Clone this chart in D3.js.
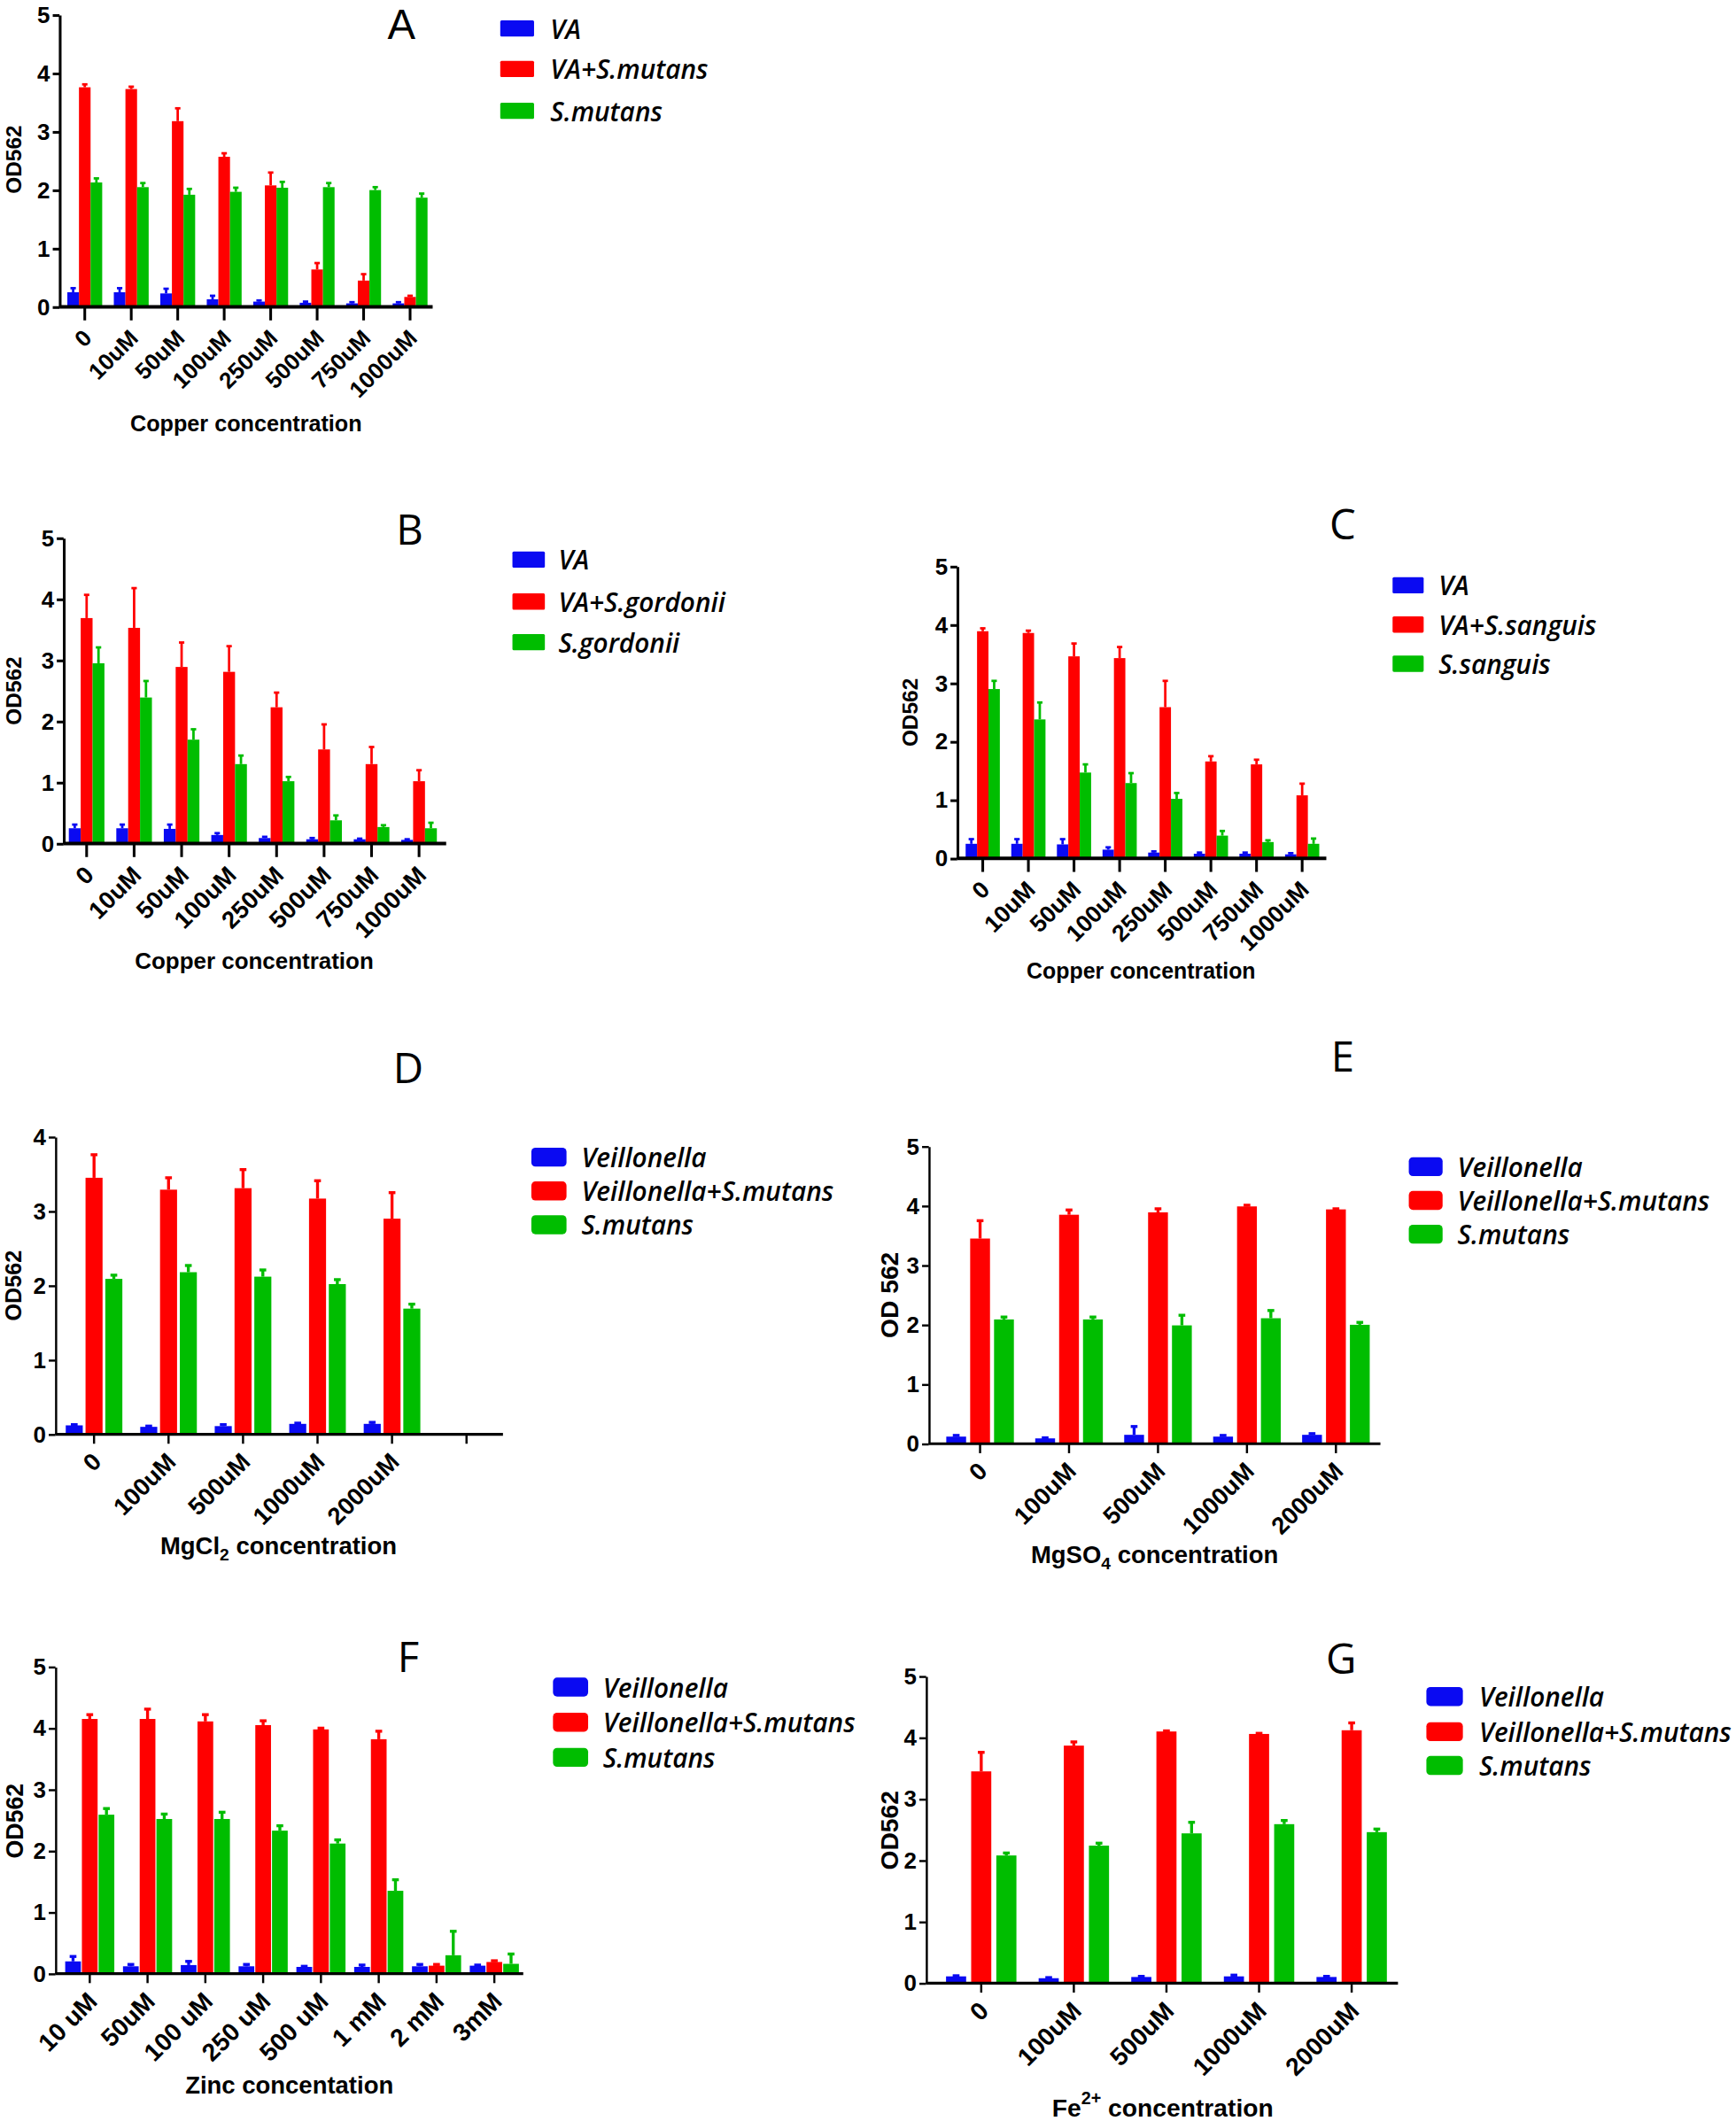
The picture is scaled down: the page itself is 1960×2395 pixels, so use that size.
<!DOCTYPE html>
<html><head><meta charset="utf-8">
<script src="https://cdnjs.cloudflare.com/ajax/libs/d3/7.8.5/d3.min.js"></script>
<style>html,body{margin:0;padding:0;background:#fff;} svg{display:block;background:#fff}</style>
</head><body>
<svg id="fig" width="1960" height="2395" viewBox="0 0 1284 1569"></svg>
<script>
// ---------- DATA ----------
const copperCats = ["0","10uM","50uM","100uM","250uM","500uM","750uM","1000uM"];
const mgCatsD = ["0","100uM","500uM","1000uM","2000uM",""];
const mgCatsE = ["0","100uM","500uM","1000uM","2000uM"];
const zincCats = ["10 uM","50uM","100 uM","250 uM","500 uM","1 mM","2 mM","3mM"];
const feCats = ["0","100uM","500uM","1000uM","2000uM"];
const yTicks5 = [0,1,2,3,4,5];
const yTicks4 = [0,1,2,3,4];

const legendA = ["VA","VA+S.mutans","S.mutans"];
const legendB = ["VA","VA+S.gordonii","S.gordonii"];
const legendC = ["VA","VA+S.sanguis","S.sanguis"];
const legendV = ["Veillonella","Veillonella+S.mutans","S.mutans"];

// Panel A
const A_va = [0.25,0.25,0.23,0.13,0.09,0.07,0.06,0.06];
const A_vaErr = [0.07,0.07,0.08,0.06,0.02,0.02,0.02,0.02];
const A_mix = [3.76,3.73,3.18,2.57,2.08,0.64,0.45,0.17];
const A_mixErr = [0.05,0.04,0.22,0.06,0.22,0.11,0.11,0.02];
const A_sm = [2.13,2.05,1.92,1.97,2.04,2.05,2.00,1.87];
const A_smErr = [0.07,0.07,0.10,0.07,0.10,0.07,0.05,0.07];
// Panel B
const B_va = [0.25,0.25,0.24,0.14,0.09,0.07,0.07,0.06];
const B_vaErr = [0.06,0.06,0.07,0.03,0.02,0.02,0.01,0.01];
const B_mix = [3.69,3.53,2.89,2.81,2.23,1.54,1.30,1.02];
const B_mixErr = [0.38,0.65,0.40,0.42,0.24,0.41,0.28,0.18];
const B_sg = [2.95,2.39,1.70,1.30,1.02,0.38,0.27,0.25];
const B_sgErr = [0.26,0.27,0.17,0.14,0.07,0.08,0.03,0.09];
// Panel C
const C_va = [0.25,0.25,0.24,0.15,0.10,0.08,0.08,0.07];
const C_vaErr = [0.08,0.08,0.09,0.04,0.02,0.02,0.02,0.02];
const C_mix = [3.89,3.86,3.46,3.43,2.59,1.66,1.61,1.08];
const C_mixErr = [0.05,0.04,0.22,0.19,0.45,0.09,0.08,0.20];
const C_ss = [2.90,2.38,1.47,1.29,1.02,0.39,0.28,0.25];
const C_ssErr = [0.14,0.29,0.14,0.17,0.10,0.08,0.03,0.09];
// Panel D
const D_v = [0.12,0.10,0.11,0.14,0.14];
const D_vErr = [0.01,0.01,0.02,0.01,0.02];
const D_mix = [3.45,3.29,3.31,3.17,2.90];
const D_mixErr = [0.31,0.16,0.25,0.24,0.35];
const D_sm = [2.09,2.18,2.12,2.02,1.69];
const D_smErr = [0.05,0.09,0.09,0.06,0.06];
// Panel E
const E_v = [0.12,0.09,0.15,0.12,0.15];
const E_vErr = [0.02,0.01,0.14,0.02,0.02];
const E_mix = [3.45,3.85,3.89,3.99,3.94];
const E_mixErr = [0.30,0.08,0.06,0.02,0.01];
const E_sm = [2.09,2.09,1.99,2.11,2.00];
const E_smErr = [0.04,0.04,0.17,0.13,0.04];
// Panel F
const F_v = [0.20,0.12,0.14,0.12,0.11,0.11,0.12,0.13];
const F_vErr = [0.08,0.03,0.06,0.03,0.01,0.03,0.03,0.01];
const F_mix = [4.15,4.15,4.11,4.05,3.98,3.82,0.13,0.19];
const F_mixErr = [0.07,0.16,0.11,0.07,0.02,0.13,0.02,0.02];
const F_sm = [2.59,2.52,2.52,2.33,2.12,1.35,0.30,0.16];
const F_smErr = [0.10,0.08,0.11,0.08,0.06,0.18,0.39,0.16];
// Panel G
const G_v = [0.11,0.08,0.10,0.11,0.10];
const G_vErr = [0.01,0.01,0.01,0.02,0.01];
const G_mix = [3.45,3.87,4.10,4.06,4.12];
const G_mixErr = [0.31,0.06,0.01,0.01,0.12];
const G_sm = [2.08,2.24,2.44,2.59,2.46];
const G_smErr = [0.04,0.04,0.18,0.06,0.05];

// ---------- STYLE ----------
const BLUE = "#0a0af2", RED = "#ff0000", GREEN = "#00bd00";
const colors = [BLUE, RED, GREEN];
const AXIS_FONT = "'Liberation Sans', Arial, sans-serif";
const LEG_FONT = "'Open Sans', 'Noto Sans', sans-serif";

const svg = d3.select("#fig");

function panel(p) {
  const g = svg.append("g");
  const y = d3.scaleLinear().domain([0, p.ymax]).range([p.yB, p.yT]);
  const x0 = d3.scaleBand().domain(d3.range(p.cats.length)).range(p.band).padding(0);
  const groupW = x0.bandwidth() * p.groupFrac;
  const x1 = d3.scaleBand().domain([0,1,2]).range([-groupW/2, groupW/2]).paddingInner(p.gap);
  const bw = x1.bandwidth();

  p.series.forEach((s, si) => {
    const data = s.values.map((v, i) => ({i, v, e: s.errs[i]}));
    const left = d => x0(d.i) + x0.bandwidth()/2 + x1(si);
    const cx = d => left(d) + bw/2;
    g.selectAll(null).data(data).join("line")
      .attr("x1", cx).attr("x2", cx)
      .attr("y1", d => y(d.v)).attr("y2", d => y(d.v + d.e))
      .attr("stroke", s.color).attr("stroke-width", p.errW);
    g.selectAll(null).data(data).join("line")
      .attr("x1", d => cx(d) - p.capW/2).attr("x2", d => cx(d) + p.capW/2)
      .attr("y1", d => y(d.v + d.e)).attr("y2", d => y(d.v + d.e))
      .attr("stroke", s.color).attr("stroke-width", p.errW);
    g.selectAll(null).data(data).join("rect")
      .attr("x", left).attr("width", bw)
      .attr("y", d => y(d.v)).attr("height", d => y(0) - y(d.v))
      .attr("fill", s.color);
  });

  // x axis
  const xa = d3.axisBottom(x0).tickSize(p.tickLen).tickSizeOuter(0).tickFormat(i => p.cats[i]);
  const gx = g.append("g").attr("transform", `translate(0,${p.yB})`).call(xa);
  gx.select(".domain").remove();
  gx.selectAll(".tick line").attr("stroke", "#000").attr("stroke-width", p.axW);
  gx.selectAll(".tick text")
    .attr("x", 0).attr("y", 0).attr("dy", null)
    .attr("transform", `translate(2,${p.tickLen + 10}) rotate(-45)`)
    .attr("text-anchor", "end").attr("dominant-baseline", "central")
    .attr("fill", "#000")
    .style("font-family", AXIS_FONT).style("font-weight", "bold").style("font-size", p.tickFont + "px");
  g.append("line").attr("x1", p.axisX).attr("x2", p.xEnd)
    .attr("y1", p.yB).attr("y2", p.yB).attr("stroke", "#000").attr("stroke-width", p.axW * 1.3);

  // y axis
  const ya = d3.axisLeft(y).tickValues(p.yTicks).tickSize(5).tickSizeOuter(0).tickFormat(d3.format("d"));
  const gy = g.append("g").attr("transform", `translate(${p.axisX},0)`).call(ya);
  gy.select(".domain").attr("stroke", "#000").attr("stroke-width", p.axW);
  gy.selectAll(".tick line").attr("stroke", "#000").attr("stroke-width", p.axW);
  gy.selectAll(".tick text").attr("x", -7).attr("fill", "#000")
    .style("font-family", AXIS_FONT).style("font-weight", "bold").style("font-size", p.yTickFont + "px");

  // axis titles
  const t = g.append("text").attr("x", p.title[0]).attr("y", p.title[1])
    .attr("text-anchor", "middle").attr("dominant-baseline", "central")
    .style("font-family", AXIS_FONT).style("font-weight", "bold").style("font-size", p.titleFont + "px");
  p.titleParts.forEach(part => {
    const ts = t.append("tspan").text(part.t);
    if (part.sub) ts.attr("baseline-shift", "sub").style("font-size", (p.titleFont*0.7) + "px");
    if (part.sup) ts.attr("baseline-shift", "super").style("font-size", (p.titleFont*0.7) + "px");
  });
  g.append("text").attr("transform", `translate(${p.ylab[0]},${p.ylab[1]}) rotate(-90)`)
    .attr("text-anchor", "middle").attr("dominant-baseline", "central")
    .style("font-family", AXIS_FONT).style("font-weight", "bold").style("font-size", p.ylabFont + "px")
    .text(p.ylabText);

  // panel letter (alphabetic baseline)
  g.append("text").attr("x", p.letterPos[0]).attr("y", p.letterPos[1])
    .attr("text-anchor", "middle")
    .style("font-family", p.letterFont || LEG_FONT).style("font-weight", "400").style("font-size", "31px")
    .text(p.letter);

  // legend
  const lg = g.append("g");
  p.legend.forEach((name, i) => {
    const yy = p.leg.ys[i];
    lg.append("rect").attr("x", p.leg.x).attr("y", yy - p.leg.h/2)
      .attr("width", p.leg.w).attr("height", p.leg.h).attr("rx", p.leg.rx)
      .attr("fill", colors[i]);
    lg.append("text").attr("x", p.leg.tx).attr("y", yy)
      .attr("dominant-baseline", "central")
      .style("font-family", LEG_FONT).style("font-style", "italic").style("font-weight", "600")
      .style("font-size", "19.5px").text(name);
  });
}

function mk(v, e, c) { return {values: v, errs: e, color: c}; }

const copperTitle = [{t: "Copper concentration"}];

panel({
  cats: copperCats, yTicks: yTicks5, ymax: 5,
  series: [mk(A_va, A_vaErr, BLUE), mk(A_mix, A_mixErr, RED), mk(A_sm, A_smErr, GREEN)],
  axisX: 44, xEnd: 320, band: [45.5, 320.5], yB: 227, yT: 11,
  groupFrac: 0.75, gap: 0, tickLen: 10, axW: 2, errW: 1.8, capW: 4,
  tickFont: 17, yTickFont: 17, title: [182, 313], titleFont: 16.5, titleParts: copperTitle,
  ylab: [10, 118], ylabFont: 16, ylabText: "OD562",
  letter: "A", letterPos: [297, 29], letterFont: AXIS_FONT,
  legend: legendA, leg: {x: 370, w: 25, h: 12, rx: 1, ys: [21, 51, 82], tx: 407}
});
panel({
  cats: copperCats, yTicks: yTicks5, ymax: 5,
  series: [mk(B_va, B_vaErr, BLUE), mk(B_mix, B_mixErr, RED), mk(B_sg, B_sgErr, GREEN)],
  axisX: 47, xEnd: 330, band: [46.5, 327.5], yB: 624, yT: 398,
  groupFrac: 0.75, gap: 0, tickLen: 10, axW: 2, errW: 1.8, capW: 4,
  tickFont: 18, yTickFont: 17, title: [188, 711], titleFont: 17, titleParts: copperTitle,
  ylab: [10, 511], ylabFont: 16, ylabText: "OD562",
  letter: "B", letterPos: [303, 403],
  legend: legendB, leg: {x: 379, w: 24, h: 12, rx: 1, ys: [414, 445, 475], tx: 413}
});
panel({
  cats: copperCats, yTicks: yTicks5, ymax: 5,
  series: [mk(C_va, C_vaErr, BLUE), mk(C_mix, C_mixErr, RED), mk(C_ss, C_ssErr, GREEN)],
  axisX: 708, xEnd: 981, band: [710, 980], yB: 635, yT: 419,
  groupFrac: 0.75, gap: 0, tickLen: 10, axW: 2, errW: 1.8, capW: 4,
  tickFont: 17.5, yTickFont: 17, title: [844, 718], titleFont: 16.3, titleParts: copperTitle,
  ylab: [673, 527], ylabFont: 16, ylabText: "OD562",
  letter: "C", letterPos: [993, 399],
  legend: legendC, leg: {x: 1030, w: 23, h: 12, rx: 1, ys: [433, 462, 491], tx: 1064}
});
panel({
  cats: mgCatsD, yTicks: yTicks4, ymax: 4,
  series: [mk(D_v, D_vErr, BLUE), mk(D_mix, D_mixErr, RED), mk(D_sm, D_smErr, GREEN)],
  axisX: 41, xEnd: 372, band: [42, 372.6], yB: 1061, yT: 841,
  groupFrac: 0.76, gap: 0.14, tickLen: 7, axW: 1.6, errW: 2.2, capW: 5,
  tickFont: 18, yTickFont: 17, title: [206, 1143], titleFont: 18,
  titleParts: [{t: "MgCl"}, {t: "2", sub: true}, {t: " concentration"}],
  ylab: [10, 951], ylabFont: 16.5, ylabText: "OD562",
  letter: "D", letterPos: [302, 801],
  legend: legendV, leg: {x: 393, w: 26, h: 14, rx: 3, ys: [856, 881, 906], tx: 430}
});
panel({
  cats: mgCatsE, yTicks: yTicks5, ymax: 5,
  series: [mk(E_v, E_vErr, BLUE), mk(E_mix, E_mixErr, RED), mk(E_sm, E_smErr, GREEN)],
  axisX: 687, xEnd: 1021, band: [692, 1021], yB: 1068, yT: 848,
  groupFrac: 0.76, gap: 0.17, tickLen: 7, axW: 1.6, errW: 2.2, capW: 5,
  tickFont: 18, yTickFont: 17, title: [854, 1150], titleFont: 18,
  titleParts: [{t: "MgSO"}, {t: "4", sub: true}, {t: " concentration"}],
  ylab: [658, 958], ylabFont: 18.5, ylabText: "OD 562",
  letter: "E", letterPos: [993, 793],
  legend: legendV, leg: {x: 1042, w: 25, h: 14, rx: 3, ys: [863, 888, 913], tx: 1078}
});
panel({
  cats: zincCats, yTicks: yTicks5, ymax: 5,
  series: [mk(F_v, F_vErr, BLUE), mk(F_mix, F_mixErr, RED), mk(F_sm, F_smErr, GREEN)],
  axisX: 41, xEnd: 387, band: [45, 387], yB: 1460, yT: 1233,
  groupFrac: 0.85, gap: 0.06, tickLen: 7, axW: 1.6, errW: 2.2, capW: 5,
  tickFont: 18.5, yTickFont: 17, title: [214, 1542], titleFont: 18,
  titleParts: [{t: "Zinc concentation"}],
  ylab: [11, 1347], ylabFont: 17.5, ylabText: "OD562",
  letter: "F", letterPos: [302, 1237],
  legend: legendV, leg: {x: 409, w: 26, h: 14, rx: 3, ys: [1248, 1274, 1300], tx: 446}
});
panel({
  cats: feCats, yTicks: yTicks5, ymax: 5,
  series: [mk(G_v, G_vErr, BLUE), mk(G_mix, G_mixErr, RED), mk(G_sm, G_smErr, GREEN)],
  axisX: 685, xEnd: 1034, band: [691.5, 1034], yB: 1467, yT: 1240,
  groupFrac: 0.76, gap: 0.2, tickLen: 7, axW: 1.6, errW: 2.2, capW: 5,
  tickFont: 18.5, yTickFont: 17, title: [860, 1559], titleFont: 18.5,
  titleParts: [{t: "Fe"}, {t: "2+", sup: true}, {t: " concentration"}],
  ylab: [658, 1354], ylabFont: 18.5, ylabText: "OD562",
  letter: "G", letterPos: [992, 1238],
  legend: legendV, leg: {x: 1055, w: 27, h: 14, rx: 3, ys: [1255, 1281, 1306], tx: 1094}
});
</script>
</body></html>
